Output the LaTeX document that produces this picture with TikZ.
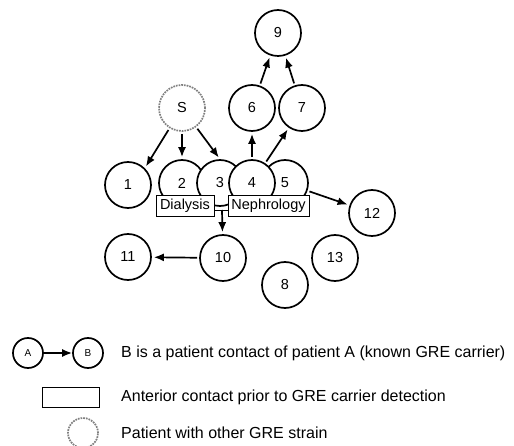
\documentclass[tikz,border=0pt]{standalone}
\usepackage{fontspec}
\setmainfont{Liberation Sans}
\usetikzlibrary{arrows.meta}
\begin{document}
\begin{tikzpicture}[x=1pt,y=-1pt,line width=1.7pt,
        pat/.style={circle,draw,fill=white,minimum size=46pt,inner sep=0pt,font=\fontsize{14.5}{16}\selectfont},
        other/.style={pat,draw=gray,densely dotted},
        ward/.style={rectangle,draw,fill=white,line width=0.9pt,minimum height=21pt,inner sep=2pt,font=\fontsize{14.5}{16}\selectfont},
        contact/.style={-{Latex[length=10pt,width=8pt]},shorten >=2pt,shorten <=2pt},
        legtext/.style={anchor=west,font=\fontsize{16}{18}\selectfont}]
        \useasboundingbox (0,0) rectangle (514,446);
        % patients
        \node[pat] (n9) at (278,33) {9};
        \node[other] (s) at (182,108) {S};
        \node[pat] (n6) at (252,108) {6};
        \node[pat] (n7) at (302,108) {7};
        \node[pat] (n1) at (128,185) {1};
        \node[pat] (n2) at (182,183) {2};
        \node[pat] (n3) at (220,183) {3};
        \node[pat] (n5) at (285,183) {5};
        \node[pat] (n4) at (252,183) {4};
        \node[pat] (n12) at (372,213) {12};
        \node[pat] (n10) at (223,258) {10};
        \node[pat] (n11) at (128,257) {11};
        \node[pat] (n13) at (335,258) {13};
        \node[pat] (n8) at (285,285) {8};
        % wards
        \node[ward,minimum width=58pt] (dia) at (185,205.5) {Dialysis};
        \node[ward,minimum width=81pt] (neph) at (268.5,205.5) {Nephrology};
        \coordinate (j) at (222,210);
        \draw[line width=0.9pt] (dia.east |- j) -- (neph.west |- j);
        % contacts
        \draw[contact] (s) -- (n1.north east);
        \draw[contact] (s) -- (n2);
        \draw[contact] (s) -- (n3.north);
        \draw[contact] (n4) -- (n6);
        \draw[contact] (n4) -- (n7);
        \draw[contact] (n6) -- (n9);
        \draw[contact] (n7) -- (n9);
        \draw[contact] (n5) -- (n12);
        \draw[contact,shorten <=0pt] (j) -- (n10);
        \draw[contact] (n10) -- (n11);
        % legend
        \node[pat,minimum size=30pt,font=\fontsize{10}{12}\selectfont] (la) at (28,353) {A};
        \node[pat,minimum size=30pt,font=\fontsize{10}{12}\selectfont] (lb) at (88,353) {B};
        \draw[contact,shorten >=0pt,shorten <=0pt] (la) -- (lb);
        \node[legtext] (t1) at (117,353) {B is a patient contact of patient A (known GRE carrier)};
        \node[rectangle,draw,line width=0.9pt,minimum width=57pt,minimum height=20pt] (lw) at (70.5,397) {};
        \node[legtext] (t2) at (117,397) {Anterior contact prior to GRE carrier detection};
        \node[other,minimum size=30pt] (lo) at (83,433) {};
        \node[legtext] (t3) at (117,433) {Patient with other GRE strain};
\end{tikzpicture}
\end{document}
